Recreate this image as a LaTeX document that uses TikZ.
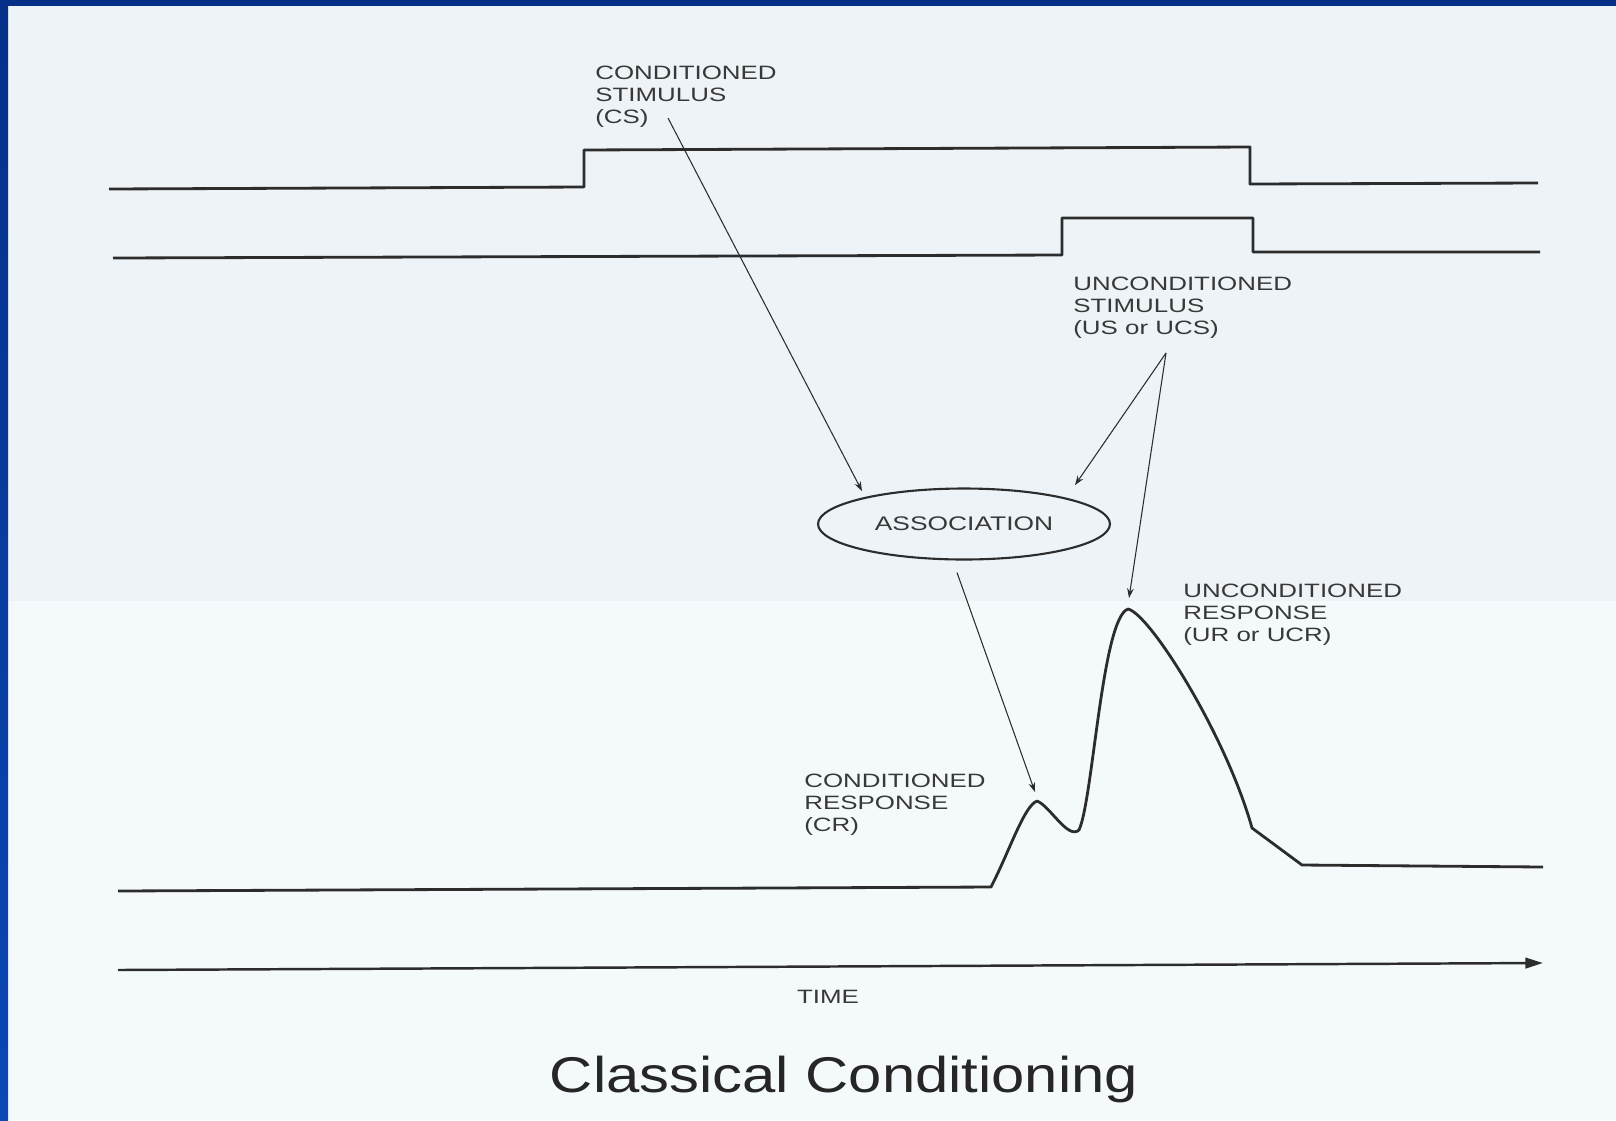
\documentclass[tikz,border=0pt]{standalone}
\usepackage{fontspec}
\setmainfont{Liberation Sans}
\newfontfamily\lblfont[FakeStretch=1.34]{Liberation Sans}
\newfontfamily\titlefont[FakeStretch=1.19]{Liberation Sans}
\usetikzlibrary{shapes.geometric,arrows.meta}
\definecolor{slidenavy}{RGB}{6,48,136}
\definecolor{slideblue}{RGB}{10,72,182}
\definecolor{paperup}{RGB}{237,243,246}
\definecolor{paperlow}{RGB}{244,250,252}
\definecolor{ink}{RGB}{44,44,44}
\definecolor{labelgray}{RGB}{56,56,56}
\begin{document}
\begin{tikzpicture}[x=0.02cm,y=-0.02cm,
  trace/.style={ink,line width=1.6pt,line join=round},
  arr/.style={ink,line width=0.6pt,-{Stealth[length=5.5pt,width=3.8pt]}},
  lbl/.style={labelgray,font=\lblfont\fontsize{11}{12.3}\selectfont,align=left,inner sep=0pt}]
  % slide background
  \useasboundingbox (0,0) rectangle (1616,1120);
  \fill[paperlow] (0,0) rectangle (1616,1120);
  \fill[paperup] (0,0) rectangle (1616,601);
  \fill[slidenavy] (0,0) rectangle (1616,6);
  \shade[top color=slidenavy,bottom color=slideblue] (0,0) rectangle (8,1120);

  % stimulus traces
  \draw[trace] (109,189) -- (584,187) -- (584,150) -- (1250,147) -- (1250,184) -- (1538,183);
  \draw[trace] (113,258) -- (1062,255) -- (1062,218) -- (1253,218) -- (1253,252) -- (1540,252);

  % response trace
  \draw[trace] (118,891) -- (991,887) .. controls (1010,850) and (1024,806) .. (1037,801)
    .. controls (1050,806) and (1068,840) .. (1079,830)
    .. controls (1093,800) and (1102,618) .. (1128,609)
    .. controls (1150,614) and (1226,735) .. (1252,828) -- (1302,865) -- (1543,867);

  % time axis
  \draw[ink,line width=1.4pt,-{Triangle[length=10pt,width=6pt]}] (118,970) -- (1543,963);

  \node[lbl,anchor=north west] (cs) at (595,66) {CONDITIONED\\STIMULUS\\(CS)};
  \node[lbl,anchor=north west] (us) at (1073,277) {UNCONDITIONED\\STIMULUS\\(US or UCS)};
  \node[lbl,anchor=north west] (ur) at (1183,584) {UNCONDITIONED\\RESPONSE\\(UR or UCR)};
  \node[lbl,anchor=north west] (cr) at (804,774) {CONDITIONED\\RESPONSE\\(CR)};
  \node[lbl] (time) at (828,997) {TIME};
  \node[lbl,font=\lblfont\fontsize{11.2}{13}\selectfont,draw=ink,line width=1.2pt,ellipse,
    minimum width=5.84cm,minimum height=1.42cm] (assoc) at (964,524) {ASSOCIATION};
  \node[font=\titlefont\fontsize{28.6}{34}\selectfont,text=black!85,anchor=base] (title) at (844,1092) {Classical Conditioning};

  \coordinate (cs-tail) at (668,118);
  \coordinate (us-tail) at (1166,353);
  \coordinate (cr-tip) at (1035,792);
  \coordinate (ur-tip) at (1129,598);

  \draw[arr] (cs-tail) -- ([shift={(2,-7)}]assoc.north west);
  \draw[arr] (us-tail) -- ([shift={(7,-13)}]assoc.north east);
  \draw[arr] (us-tail) -- (ur-tip);
  \draw[arr] ([shift={(-7,12)}]assoc.south) -- (cr-tip);
\end{tikzpicture}
\end{document}
